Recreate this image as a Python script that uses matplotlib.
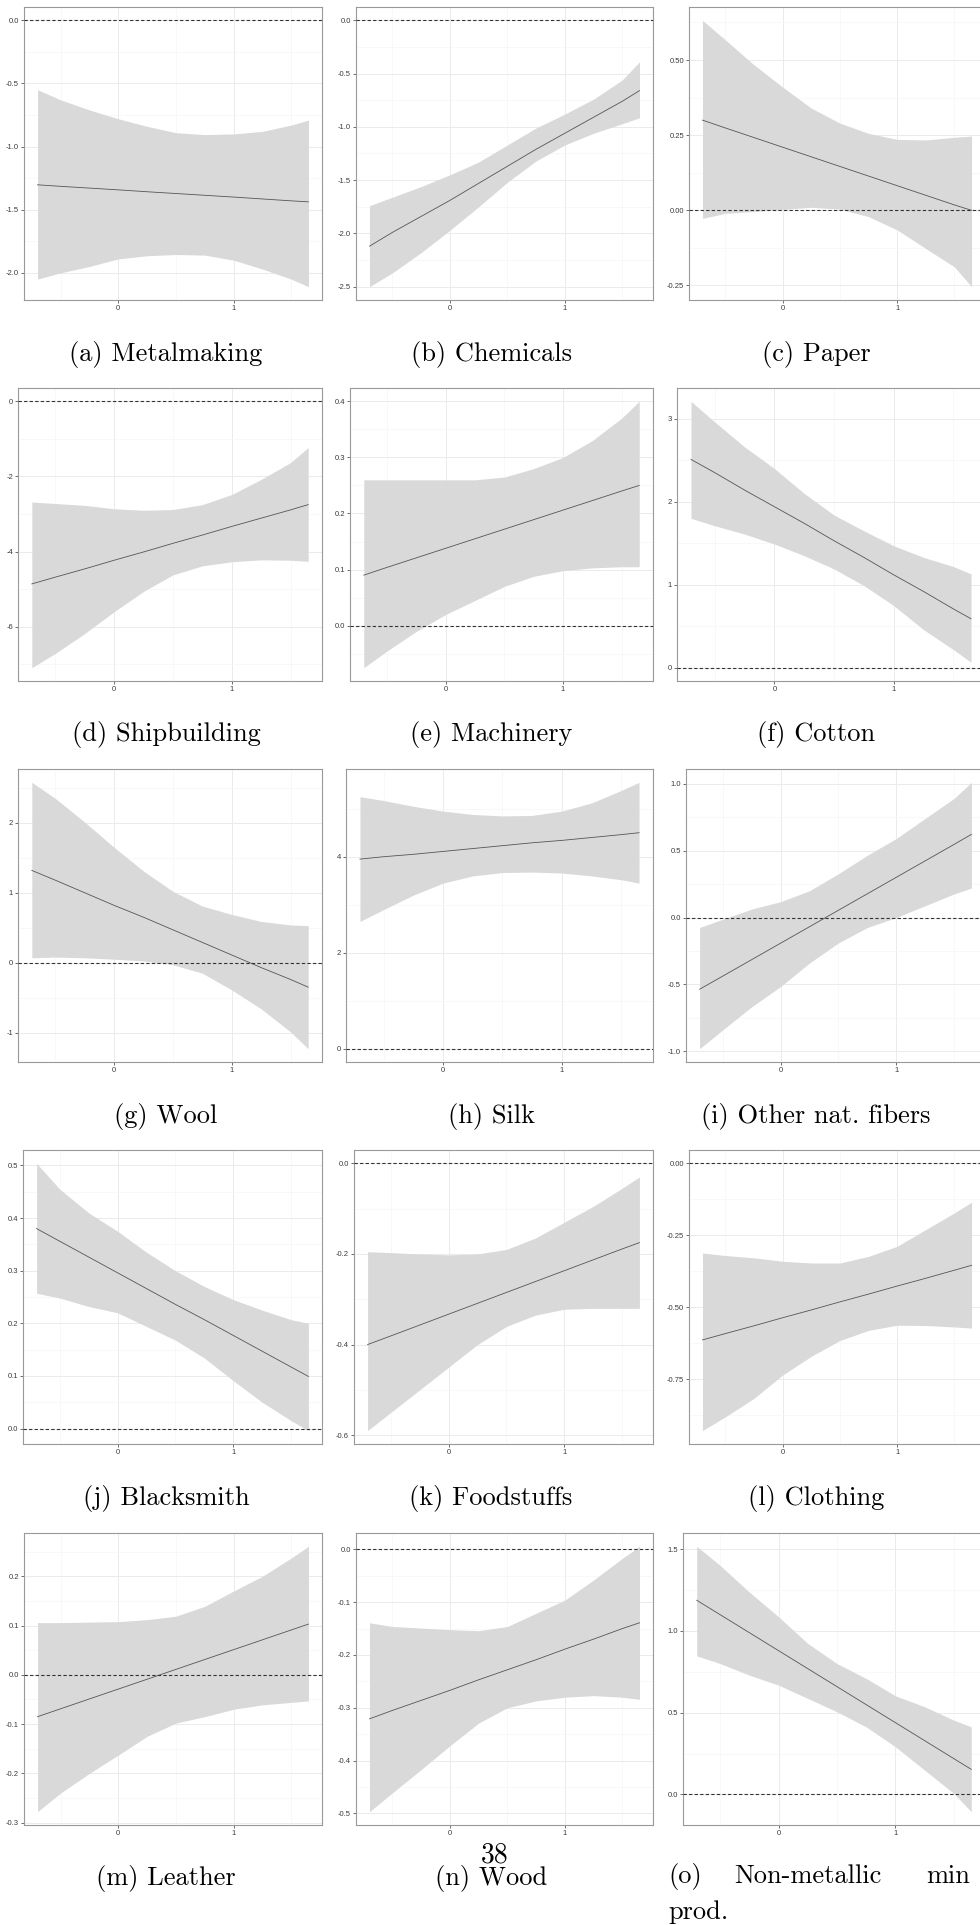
import matplotlib
matplotlib.use("Agg")
import matplotlib.pyplot as plt
import numpy as np
from matplotlib.ticker import FixedLocator, MultipleLocator, FormatStrFormatter

plt.rcParams['axes.unicode_minus'] = False

# common grid of the x values the estimates are read at
X_GRID = [-0.70, -0.50, -0.25, 0.00, 0.25, 0.50, 0.75, 1.00, 1.25, 1.50, 1.65]

# (a) Metalmaking
METAL_FIT = [-1.303, -1.315, -1.329, -1.343, -1.358, -1.372, -1.386, -1.400, -1.415, -1.430, -1.438]
METAL_HI = [-0.55, -0.63, -0.71, -0.78, -0.84, -0.89, -0.905, -0.90, -0.88, -0.83, -0.79]
METAL_LO = [-2.05, -2.00, -1.95, -1.89, -1.865, -1.855, -1.86, -1.90, -1.97, -2.05, -2.11]
# (b) Chemicals
CHEM_FIT = [-2.12, -1.99, -1.84, -1.69, -1.53, -1.37, -1.21, -1.06, -0.91, -0.76, -0.66]
CHEM_HI = [-1.74, -1.66, -1.56, -1.45, -1.33, -1.17, -1.01, -0.88, -0.74, -0.56, -0.39]
CHEM_LO = [-2.50, -2.37, -2.18, -1.97, -1.75, -1.52, -1.32, -1.17, -1.06, -0.97, -0.915]
# (c) Paper
PAPER_FIT = [0.300, 0.274, 0.242, 0.210, 0.178, 0.146, 0.114, 0.082, 0.050, 0.018, 0.000]
PAPER_HI = [0.632, 0.567, 0.484, 0.410, 0.340, 0.290, 0.256, 0.236, 0.234, 0.243, 0.247]
PAPER_LO = [-0.027, -0.010, -0.004, 0.003, 0.010, 0.004, -0.021, -0.065, -0.127, -0.188, -0.254]
# (d) Shipbuilding
SHIP_FIT = [-4.86, -4.68, -4.46, -4.23, -4.01, -3.78, -3.56, -3.33, -3.11, -2.89, -2.75]
SHIP_HI = [-2.68, -2.72, -2.77, -2.86, -2.90, -2.88, -2.75, -2.48, -2.08, -1.63, -1.23]
SHIP_LO = [-7.09, -6.71, -6.18, -5.60, -5.06, -4.62, -4.38, -4.27, -4.22, -4.23, -4.26]
# (e) Machinery
MACH_FIT = [0.090, 0.104, 0.121, 0.138, 0.155, 0.172, 0.189, 0.206, 0.223, 0.240, 0.250]
MACH_HI = [0.260, 0.260, 0.260, 0.260, 0.260, 0.265, 0.280, 0.300, 0.330, 0.370, 0.400]
MACH_LO = [-0.075, -0.045, -0.010, 0.020, 0.045, 0.070, 0.088, 0.098, 0.103, 0.105, 0.105]
# (f) Cotton
COTTON_FIT = [2.51, 2.35, 2.14, 1.94, 1.74, 1.53, 1.33, 1.12, 0.92, 0.71, 0.59]
COTTON_HI = [3.21, 2.96, 2.66, 2.40, 2.10, 1.84, 1.65, 1.47, 1.33, 1.22, 1.13]
COTTON_LO = [1.80, 1.71, 1.61, 1.49, 1.35, 1.19, 0.99, 0.75, 0.46, 0.22, 0.065]
# (g) Wool
WOOL_FIT = [1.32, 1.18, 1.00, 0.82, 0.65, 0.47, 0.29, 0.11, -0.07, -0.24, -0.35]
WOOL_HI = [2.58, 2.35, 2.01, 1.65, 1.31, 1.02, 0.81, 0.69, 0.59, 0.54, 0.53]
WOOL_LO = [0.07, 0.08, 0.07, 0.05, 0.025, -0.03, -0.15, -0.39, -0.66, -0.99, -1.23]
# (h) Silk
SILK_FIT = [3.95, 4.00, 4.05, 4.11, 4.17, 4.23, 4.29, 4.34, 4.40, 4.46, 4.50]
SILK_HI = [5.25, 5.17, 5.05, 4.95, 4.88, 4.85, 4.86, 4.95, 5.12, 5.38, 5.55]
SILK_LO = [2.65, 2.90, 3.20, 3.45, 3.60, 3.67, 3.68, 3.66, 3.60, 3.52, 3.45]
# (i) Other nat. fibers
FIBER_FIT = [-0.536, -0.438, -0.315, -0.192, -0.069, 0.054, 0.177, 0.300, 0.423, 0.546, 0.621]
FIBER_HI = [-0.075, -0.013, 0.063, 0.118, 0.200, 0.327, 0.465, 0.590, 0.740, 0.890, 1.010]
FIBER_LO = [-0.98, -0.84, -0.667, -0.516, -0.34, -0.19, -0.075, 0.0, 0.088, 0.176, 0.22]
# (j) Blacksmith
SMITH_FIT = [0.380, 0.356, 0.326, 0.296, 0.266, 0.236, 0.207, 0.177, 0.147, 0.117, 0.099]
SMITH_HI = [0.504, 0.455, 0.410, 0.375, 0.335, 0.300, 0.270, 0.245, 0.225, 0.207, 0.200]
SMITH_LO = [0.257, 0.248, 0.232, 0.220, 0.194, 0.168, 0.134, 0.091, 0.050, 0.015, -0.004]
# (k) Foodstuffs
FOOD_FIT = [-0.400, -0.381, -0.357, -0.333, -0.309, -0.285, -0.261, -0.237, -0.213, -0.189, -0.175]
FOOD_HI = [-0.195, -0.197, -0.200, -0.202, -0.200, -0.190, -0.165, -0.130, -0.095, -0.055, -0.030]
FOOD_LO = [-0.59, -0.55, -0.50, -0.45, -0.40, -0.36, -0.335, -0.322, -0.32, -0.32, -0.32]
# (l) Clothing
CLOTH_FIT = [-0.613, -0.591, -0.564, -0.536, -0.509, -0.481, -0.454, -0.426, -0.399, -0.371, -0.354]
CLOTH_HI = [-0.311, -0.320, -0.328, -0.340, -0.346, -0.346, -0.323, -0.288, -0.230, -0.172, -0.135]
CLOTH_LO = [-0.928, -0.880, -0.816, -0.735, -0.670, -0.615, -0.580, -0.562, -0.563, -0.568, -0.572]
# (m) Leather
LEATHER_FIT = [-0.085, -0.069, -0.049, -0.029, -0.009, 0.011, 0.031, 0.051, 0.071, 0.091, 0.103]
LEATHER_HI = [0.106, 0.106, 0.107, 0.108, 0.112, 0.119, 0.139, 0.170, 0.200, 0.237, 0.261]
LEATHER_LO = [-0.278, -0.240, -0.200, -0.163, -0.125, -0.098, -0.085, -0.070, -0.061, -0.056, -0.053]
# (n) Wood
WOOD_FIT = [-0.321, -0.305, -0.286, -0.267, -0.247, -0.228, -0.209, -0.189, -0.170, -0.150, -0.139]
WOOD_HI = [-0.139, -0.146, -0.149, -0.152, -0.154, -0.146, -0.121, -0.096, -0.058, -0.017, 0.006]
WOOD_LO = [-0.497, -0.461, -0.417, -0.372, -0.329, -0.300, -0.287, -0.280, -0.277, -0.280, -0.284]
# (o) Non-metallic min. prod.
NONMET_FIT = [1.187, 1.099, 0.989, 0.879, 0.769, 0.659, 0.549, 0.439, 0.329, 0.219, 0.153]
NONMET_HI = [1.517, 1.400, 1.237, 1.086, 0.923, 0.800, 0.709, 0.603, 0.536, 0.454, 0.413]
NONMET_LO = [0.847, 0.800, 0.729, 0.668, 0.587, 0.505, 0.413, 0.291, 0.149, 0.006, -0.106]

CAPTIONS = ["(a) Metalmaking", "(b) Chemicals", "(c) Paper",
            "(d) Shipbuilding", "(e) Machinery", "(f) Cotton",
            "(g) Wool", "(h) Silk", "(i) Other nat. fibers",
            "(j) Blacksmith", "(k) Foodstuffs", "(l) Clothing",
            "(m) Leather", "(n) Wood", None]

# y ticks and their label format per panel
Y_TICKS = [
    [0.0, -0.5, -1.0, -1.5, -2.0], [0.0, -0.5, -1.0, -1.5, -2.0, -2.5], [0.5, 0.25, 0.0, -0.25],
    [0, -2, -4, -6], [0.4, 0.3, 0.2, 0.1, 0.0, -0.1], [0, 1, 2, 3],
    [-1, 0, 1, 2], [0, 2, 4], [-1.0, -0.5, 0.0, 0.5, 1.0],
    [0.0, 0.1, 0.2, 0.3, 0.4, 0.5], [0.0, -0.2, -0.4, -0.6], [0.0, -0.25, -0.5, -0.75],
    [-0.3, -0.2, -0.1, 0.0, 0.1, 0.2], [0.0, -0.1, -0.2, -0.3, -0.4, -0.5], [0.0, 0.5, 1.0, 1.5],
]
Y_FMT = ["%.1f", "%.1f", "%.2f", "%d", "%.1f", "%d", "%d", "%d", "%.1f",
         "%.1f", "%.1f", "%.2f", "%.1f", "%.1f", "%.1f"]

SERIES = [
    (METAL_FIT, METAL_LO, METAL_HI), (CHEM_FIT, CHEM_LO, CHEM_HI), (PAPER_FIT, PAPER_LO, PAPER_HI),
    (SHIP_FIT, SHIP_LO, SHIP_HI), (MACH_FIT, MACH_LO, MACH_HI), (COTTON_FIT, COTTON_LO, COTTON_HI),
    (WOOL_FIT, WOOL_LO, WOOL_HI), (SILK_FIT, SILK_LO, SILK_HI), (FIBER_FIT, FIBER_LO, FIBER_HI),
    (SMITH_FIT, SMITH_LO, SMITH_HI), (FOOD_FIT, FOOD_LO, FOOD_HI), (CLOTH_FIT, CLOTH_LO, CLOTH_HI),
    (LEATHER_FIT, LEATHER_LO, LEATHER_HI), (WOOD_FIT, WOOD_LO, WOOD_HI), (NONMET_FIT, NONMET_LO, NONMET_HI),
]

# page layout in pixels
W, H = 980, 1925
ROW_TOP = [7, 388, 769, 1150, 1533]
ROW_BOT = [300, 681, 1062, 1444, 1825]
CAP_Y = [355, 735, 1116, 1498, 1879]
COL_LEFT = [[24, 356, 689], [18, 350, 677], [18, 346, 686], [23, 354, 689], [24, 356, 683]]
COL_RIGHT = [322, 653, 985]
CAP_X = [166, 491, 816]

fig = plt.figure(figsize=(W / 100, H / 100), dpi=100)

x = np.array(X_GRID)
pad_x = 0.05 * (x.max() - x.min())

for i, (fit, lo, hi) in enumerate(SERIES):
    r, c = divmod(i, 3)
    left = COL_LEFT[r][c]
    rect = [left / W, 1 - ROW_BOT[r] / H, (COL_RIGHT[c] - left) / W, (ROW_BOT[r] - ROW_TOP[r]) / H]
    ax = fig.add_axes(rect)

    lo_a, hi_a = np.array(lo), np.array(hi)
    ymin, ymax = min(lo_a.min(), 0), max(hi_a.max(), 0)
    pad_y = 0.05 * (ymax - ymin)

    ax.fill_between(x, lo_a, hi_a, color='#d9d9d9', lw=0, zorder=2)
    ax.plot(x, fit, color='#555555', lw=0.6, zorder=3)
    ax.axhline(0, color='#333333', lw=0.8, ls=(0, (3, 2)), zorder=4)

    ax.set_xlim(x.min() - pad_x, x.max() + pad_x)
    ax.set_ylim(ymin - pad_y, ymax + pad_y)

    ticks = Y_TICKS[i]
    step = abs(ticks[1] - ticks[0])
    ax.xaxis.set_major_locator(FixedLocator([0, 1]))
    ax.xaxis.set_minor_locator(MultipleLocator(0.5))
    ax.yaxis.set_major_locator(FixedLocator(ticks))
    ax.yaxis.set_minor_locator(MultipleLocator(step / 2))
    ax.xaxis.set_major_formatter(FormatStrFormatter("%d"))
    ax.yaxis.set_major_formatter(FormatStrFormatter(Y_FMT[i]))

    ax.set_axisbelow(True)
    ax.grid(which='major', color='#ebebeb', lw=0.7)
    ax.grid(which='minor', color='#f5f5f5', lw=0.5)
    ax.tick_params(which='major', length=2, width=0.5, color='#333333', labelsize=5.5,
                   labelcolor='#3a3a3a', pad=1.5)
    ax.tick_params(which='minor', length=0)
    for lab in ax.get_xticklabels() + ax.get_yticklabels():
        lab.set_fontfamily('Liberation Sans')
    for sp in ax.spines.values():
        sp.set_color('#999999')
        sp.set_linewidth(0.8)

    if CAPTIONS[i] is not None:
        fig.text(CAP_X[c] / W, 1 - CAP_Y[r] / H, CAPTIONS[i], ha='center', va='center',
                 fontfamily='cmr10', fontsize=19)

# justified two-line caption of the last panel
cap_font = dict(fontfamily='cmr10', fontsize=19, va='center')
fig.text(668 / W, 1 - 1876 / H, "(o)", ha='left', **cap_font)
fig.text(808 / W, 1 - 1876 / H, "Non-metallic", ha='center', **cap_font)
fig.text(970 / W, 1 - 1876 / H, "min", ha='right', **cap_font)
fig.text(668 / W, 1 - 1912 / H, "prod.", ha='left', **cap_font)

# page number of the source document
fig.text(495 / W, 1 - 1855 / H, "38", ha='center', va='center', fontfamily='cmr10', fontsize=20)

fig.savefig("out.png", dpi=100)
